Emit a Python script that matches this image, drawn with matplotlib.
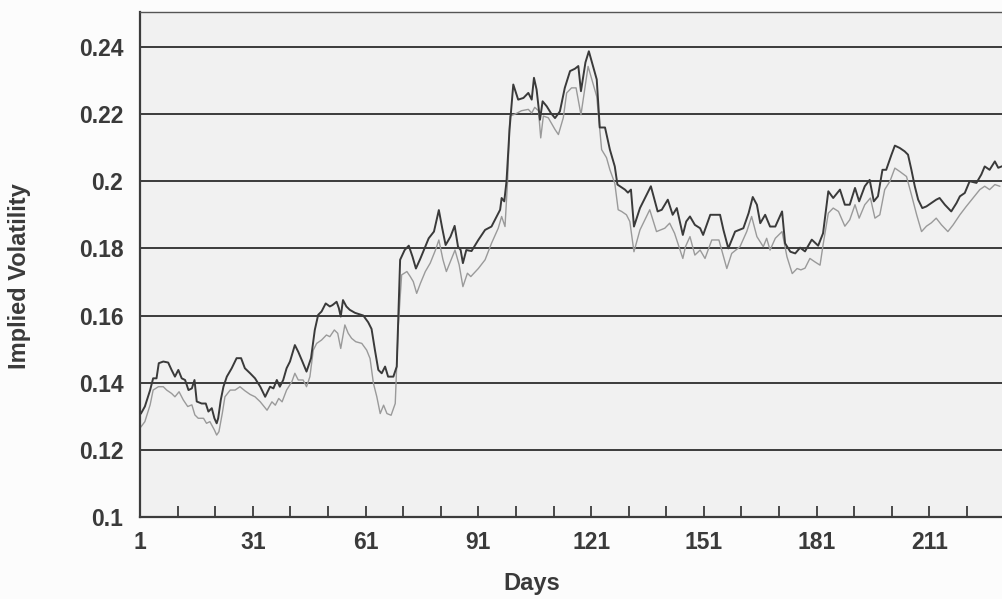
import matplotlib.pyplot as plt
from matplotlib.ticker import FixedLocator

# Werte (Tag, implizite Volatilitaet)
days_dark = [1.3, 2.3, 3.7, 4.5, 5.4, 6, 7.2, 8.5, 9.4, 10.3, 11.2, 12.1, 13, 13.9, 14.8, 15.5,
             16.1, 17.4, 18.5, 19.2, 20.1, 20.8, 21.4, 21.8, 22.5, 23.2, 24.1, 25.4, 26.7, 27.9,
             28.9, 30.3, 31.6, 33, 34.3, 35.6, 36.5, 37.4, 38.2, 39.1, 40, 40.9, 42.2, 43.1, 44.2,
             45.3, 46.5, 47.5, 48.4, 49.3, 50.4, 51.5, 52.2, 53.3, 53.9, 54.4, 55, 55.9, 56.8,
             58.2, 60.4, 61.7, 62.6, 63.5, 64.4, 65.3, 66.2, 67, 68.4, 69.3, 70.2, 71.4, 72.5,
             73.5, 74.4, 75.6, 76.9, 77.8, 79.2, 80.5, 81.4, 82.3, 83.6, 84.7, 85.6, 86.3, 86.9,
             87.8, 89.2, 91, 92.8, 94.5, 95.9, 96.8, 97.2, 97.9, 98.5, 99.3, 100.3, 101.6, 103,
             104.3, 105.2, 105.8, 106.5, 107.4, 108.1, 109.2, 110.3, 111.4, 112.7, 114, 115.4,
             116.7, 117.6, 118.3, 119.5, 120.4, 122.5, 123.3, 124.7, 126, 127.3, 128, 130, 130.8,
             131.6, 132.4, 134, 136.9, 138.7, 139.8, 141.4, 142.7, 143.8, 145.4, 146.3, 147.3,
             148.6, 150, 150.8, 152.7, 155.3, 156.2, 157.5, 159.3, 161.5, 162.9, 164, 165.1, 166,
             167.3, 168.6, 170, 171.8, 172.6, 174, 175.3, 176.6, 177.9, 179.7, 181.4, 182.7, 184.1,
             185.4, 187.2, 188.5, 189.8, 191.2, 192.3, 193.8, 195.1, 196.2, 197.3, 198.5, 199.5,
             200.9, 201.8, 203.1, 204.4, 205.3, 206.2, 207.1, 208, 209.1, 210.2, 211.5, 212.8,
             213.7, 215.1, 216.8, 218.2, 219.1, 220.4, 221.7, 223.5, 224.8, 225.7, 227, 228.4,
             229.3, 230.2]
iv_dark = [0.1309, 0.1329, 0.1378, 0.1413, 0.1413, 0.1458, 0.1463, 0.146, 0.1438, 0.1418, 0.1438,
           0.1413, 0.1408, 0.1378, 0.1383, 0.1408, 0.1344, 0.1338, 0.1338, 0.1314, 0.1324, 0.1294,
           0.1279, 0.1294, 0.1349, 0.1388, 0.1418, 0.1443, 0.1473, 0.1473, 0.1443, 0.1428, 0.1413,
           0.1388, 0.1358, 0.1388, 0.1383, 0.1408, 0.1388, 0.1408, 0.1443, 0.1463, 0.1512, 0.1492,
           0.1463, 0.1433, 0.1473, 0.1557, 0.1602, 0.1612, 0.1636, 0.1627, 0.1631, 0.1641, 0.1622,
           0.1597, 0.1646, 0.1627, 0.1617, 0.1608, 0.160, 0.158, 0.156, 0.1497, 0.1438, 0.1428,
           0.1448, 0.1418, 0.1418, 0.1448, 0.1766, 0.1795, 0.1808, 0.1775, 0.174, 0.177, 0.1805,
           0.183, 0.185, 0.1914, 0.186, 0.181, 0.1835, 0.1867, 0.1805, 0.1795, 0.1756, 0.1795,
           0.1792, 0.1825, 0.1855, 0.1865, 0.1895, 0.1915, 0.195, 0.194, 0.2, 0.2154, 0.2288,
           0.2243, 0.2248, 0.2263, 0.2243, 0.2308, 0.2273, 0.2183, 0.2238, 0.2223, 0.2203, 0.2188,
           0.2208, 0.2278, 0.2328, 0.2335, 0.2343, 0.2268, 0.2354, 0.2387, 0.2303, 0.216, 0.216,
           0.2094, 0.2044, 0.199, 0.1975, 0.1966, 0.1975, 0.1865, 0.192, 0.1985, 0.191, 0.1915,
           0.1945, 0.190, 0.192, 0.184, 0.188, 0.1895, 0.187, 0.186, 0.184, 0.190, 0.190, 0.1855,
           0.180, 0.185, 0.186, 0.1905, 0.1953, 0.193, 0.1875, 0.190, 0.1865, 0.1865, 0.191,
           0.1815, 0.179, 0.1785, 0.1802, 0.1791, 0.1826, 0.1808, 0.1845, 0.197, 0.195, 0.1975,
           0.193, 0.193, 0.198, 0.194, 0.1985, 0.2004, 0.194, 0.1955, 0.2034, 0.2034, 0.2079,
           0.2106, 0.2099, 0.2089, 0.2079, 0.2034, 0.1985, 0.1945, 0.192, 0.1925, 0.1935, 0.1945,
           0.195, 0.193, 0.191, 0.1935, 0.1955, 0.1965, 0.2, 0.1995, 0.202, 0.2044, 0.2034,
           0.2059, 0.204, 0.2044]

days_light = [1.3, 2.3, 3.7, 4.5, 5.9, 7.2, 8.1, 9.4, 10.3, 11.4, 12.5, 13.7, 14.8, 15.6, 16.5,
              17.9, 18.7, 19.6, 20.8, 21.4, 22, 22.9, 23.6, 25, 26.3, 27.6, 28.9, 30.3, 31.6, 33,
              34.8, 36.1, 37, 37.9, 38.8, 40, 41.4, 42.2, 43.1, 44.4, 45.3, 46.2, 47.1, 48, 49.3,
              50.6, 51.5, 52.7, 53.6, 54.4, 55.5, 56.4, 57.3, 58.4, 60, 61.3, 62.2, 63.1, 64,
              64.9, 65.8, 66.7, 67.8, 68.9, 69.7, 70.6, 72, 72.9, 73.7, 74.6, 75.6, 76.9, 78.2,
              79.6, 80.5, 81.6, 82.5, 84.1, 84.8, 85.9, 86.9, 88.1, 89, 91, 92.8, 94.5, 96.3, 97.2,
              98.1, 98.8, 99.4, 100.8, 102.5, 104.3, 105.2, 106, 107, 107.6, 108.3, 109.6, 111.4,
              112.3, 113.6, 114.5, 115.8, 117, 118.3, 120.2, 122.5, 123.8, 125.1, 126, 127.3,
              128.2, 129.1, 130.4, 131.3, 132.4, 134, 136.6, 138.4, 140.6, 141.9, 143.2, 145.4,
              146.1, 147.3, 148.6, 150, 151.3, 153.1, 155, 157.1, 158.4, 160.6, 162.4, 163.7,
              165.1, 166.8, 167.7, 168.6, 170, 171.8, 173.1, 174.5, 175.8, 176.8, 177.9, 179.2,
              180.5, 181.9, 182.7, 184.1, 185.4, 186.8, 188.5, 189.8, 191.2, 192.3, 193.8, 195.3,
              196.5, 197.8, 199.1, 200.5, 201.8, 203.1, 204.9, 206.2, 207.6, 208.9, 210.2, 211.5,
              212.8, 214.2, 215.9, 217.3, 219.1, 220.8, 222.6, 224.4, 225.7, 227, 228.4, 229.7]
iv_light = [0.1269, 0.1284, 0.1334, 0.1378, 0.1388, 0.1388, 0.1378, 0.1368, 0.1358, 0.1373,
            0.1349, 0.1329, 0.1334, 0.1304, 0.1294, 0.1294, 0.1279, 0.1284, 0.1259, 0.1244,
            0.1254, 0.1309, 0.1358, 0.1378, 0.1378, 0.1388, 0.1376, 0.1365, 0.1358, 0.1343,
            0.1318, 0.1343, 0.1333, 0.1353, 0.1343, 0.1378, 0.1403, 0.1428, 0.1408, 0.1408,
            0.1388, 0.1418, 0.1497, 0.1517, 0.1527, 0.1542, 0.1537, 0.1557, 0.1547, 0.1502,
            0.1572, 0.1547, 0.1532, 0.1522, 0.1517, 0.1497, 0.1472, 0.1398, 0.1358, 0.1308,
            0.1333, 0.1308, 0.1303, 0.1338, 0.1567, 0.1721, 0.1731, 0.1716, 0.1701, 0.1666,
            0.1696, 0.1731, 0.1756, 0.1795, 0.1825, 0.1766, 0.1731, 0.1775, 0.1795, 0.1751,
            0.1686, 0.1726, 0.1716, 0.174, 0.1766, 0.1815, 0.186, 0.1895, 0.1865, 0.2005, 0.2194,
            0.22, 0.221, 0.2214, 0.2203, 0.222, 0.221, 0.2129, 0.2194, 0.2189, 0.2154, 0.2139,
            0.2189, 0.2263, 0.2278, 0.2278, 0.2198, 0.2342, 0.2252, 0.2094, 0.207, 0.2034,
            0.1994, 0.1915, 0.191, 0.190, 0.188, 0.179, 0.1855, 0.1915, 0.185, 0.186, 0.1875,
            0.1845, 0.177, 0.1805, 0.1835, 0.178, 0.1795, 0.177, 0.1825, 0.1825, 0.174, 0.1785,
            0.1805, 0.185, 0.1895, 0.1835, 0.1805, 0.183, 0.1795, 0.183, 0.185, 0.1775, 0.1725,
            0.174, 0.1736, 0.1741, 0.177, 0.176, 0.175, 0.181, 0.1905, 0.192, 0.191, 0.1866,
            0.1885, 0.193, 0.189, 0.193, 0.195, 0.189, 0.190, 0.1975, 0.200, 0.2039, 0.2029,
            0.2014, 0.196, 0.190, 0.185, 0.1866, 0.1876, 0.189, 0.187, 0.185, 0.187, 0.190,
            0.1925, 0.195, 0.1975, 0.1985, 0.1975, 0.199, 0.1985]

y_ticks = [0.1, 0.12, 0.14, 0.16, 0.18, 0.2, 0.22, 0.24]
y_tick_labels = ['0.1', '0.12', '0.14', '0.16', '0.18', '0.2', '0.22', '0.24']
x_label_days = [1, 31, 61, 91, 121, 151, 181, 211]

font = ['Liberation Sans', 'DejaVu Sans']
textcol = '#3a3a3a'

fig = plt.figure(figsize=(10.02, 5.99), dpi=100)
fig.patch.set_facecolor('#fcfcfc')
ax = fig.add_axes([0.1397, 0.1369, 0.8603, 0.8431])
ax.set_facecolor('#f1f1f1')

# Gitterlinien
for y in y_ticks[1:]:
    ax.axhline(y, color='#3c3c3c', lw=1.4, zorder=1)

ax.plot(days_light, iv_light, color='#9a9a9a', lw=1.0, zorder=2)
ax.plot(days_dark, iv_dark, color='#3a3a3a', lw=1.4, zorder=3)

ax.set_xlim(1, 230.3)
ax.set_ylim(0.1, 0.2504)

ax.set_yticks(y_ticks)
ax.set_yticklabels(y_tick_labels, family=font, fontweight='bold', fontsize=16.5, color=textcol)
ax.tick_params(axis='y', length=0, pad=12)

ax.xaxis.set_major_locator(FixedLocator(x_label_days))
ax.set_xticklabels([str(d) for d in x_label_days], family=font, fontweight='bold',
                   fontsize=16.5, color=textcol)
ax.xaxis.set_minor_locator(FixedLocator(list(range(1, 231, 10))))
ax.tick_params(axis='x', which='both', direction='in', length=8, width=1.3,
               color='#3c3c3c', pad=10)

for side in ['left', 'bottom']:
    ax.spines[side].set_color('#3c3c3c')
    ax.spines[side].set_linewidth(1.6)
ax.spines['top'].set_color('#555555')
ax.spines['top'].set_linewidth(1.0)
ax.spines['right'].set_visible(False)

ax.set_xlabel('Days', family=font, fontweight='bold', fontsize=17, color=textcol)
ax.xaxis.set_label_coords(0.455, -0.108)
ax.set_ylabel('Implied Volatility', family=font, fontweight='bold', fontsize=17, color=textcol)
ax.yaxis.set_label_coords(-0.126, 0.477)

plt.savefig('out.png', dpi=100, facecolor=fig.get_facecolor())
